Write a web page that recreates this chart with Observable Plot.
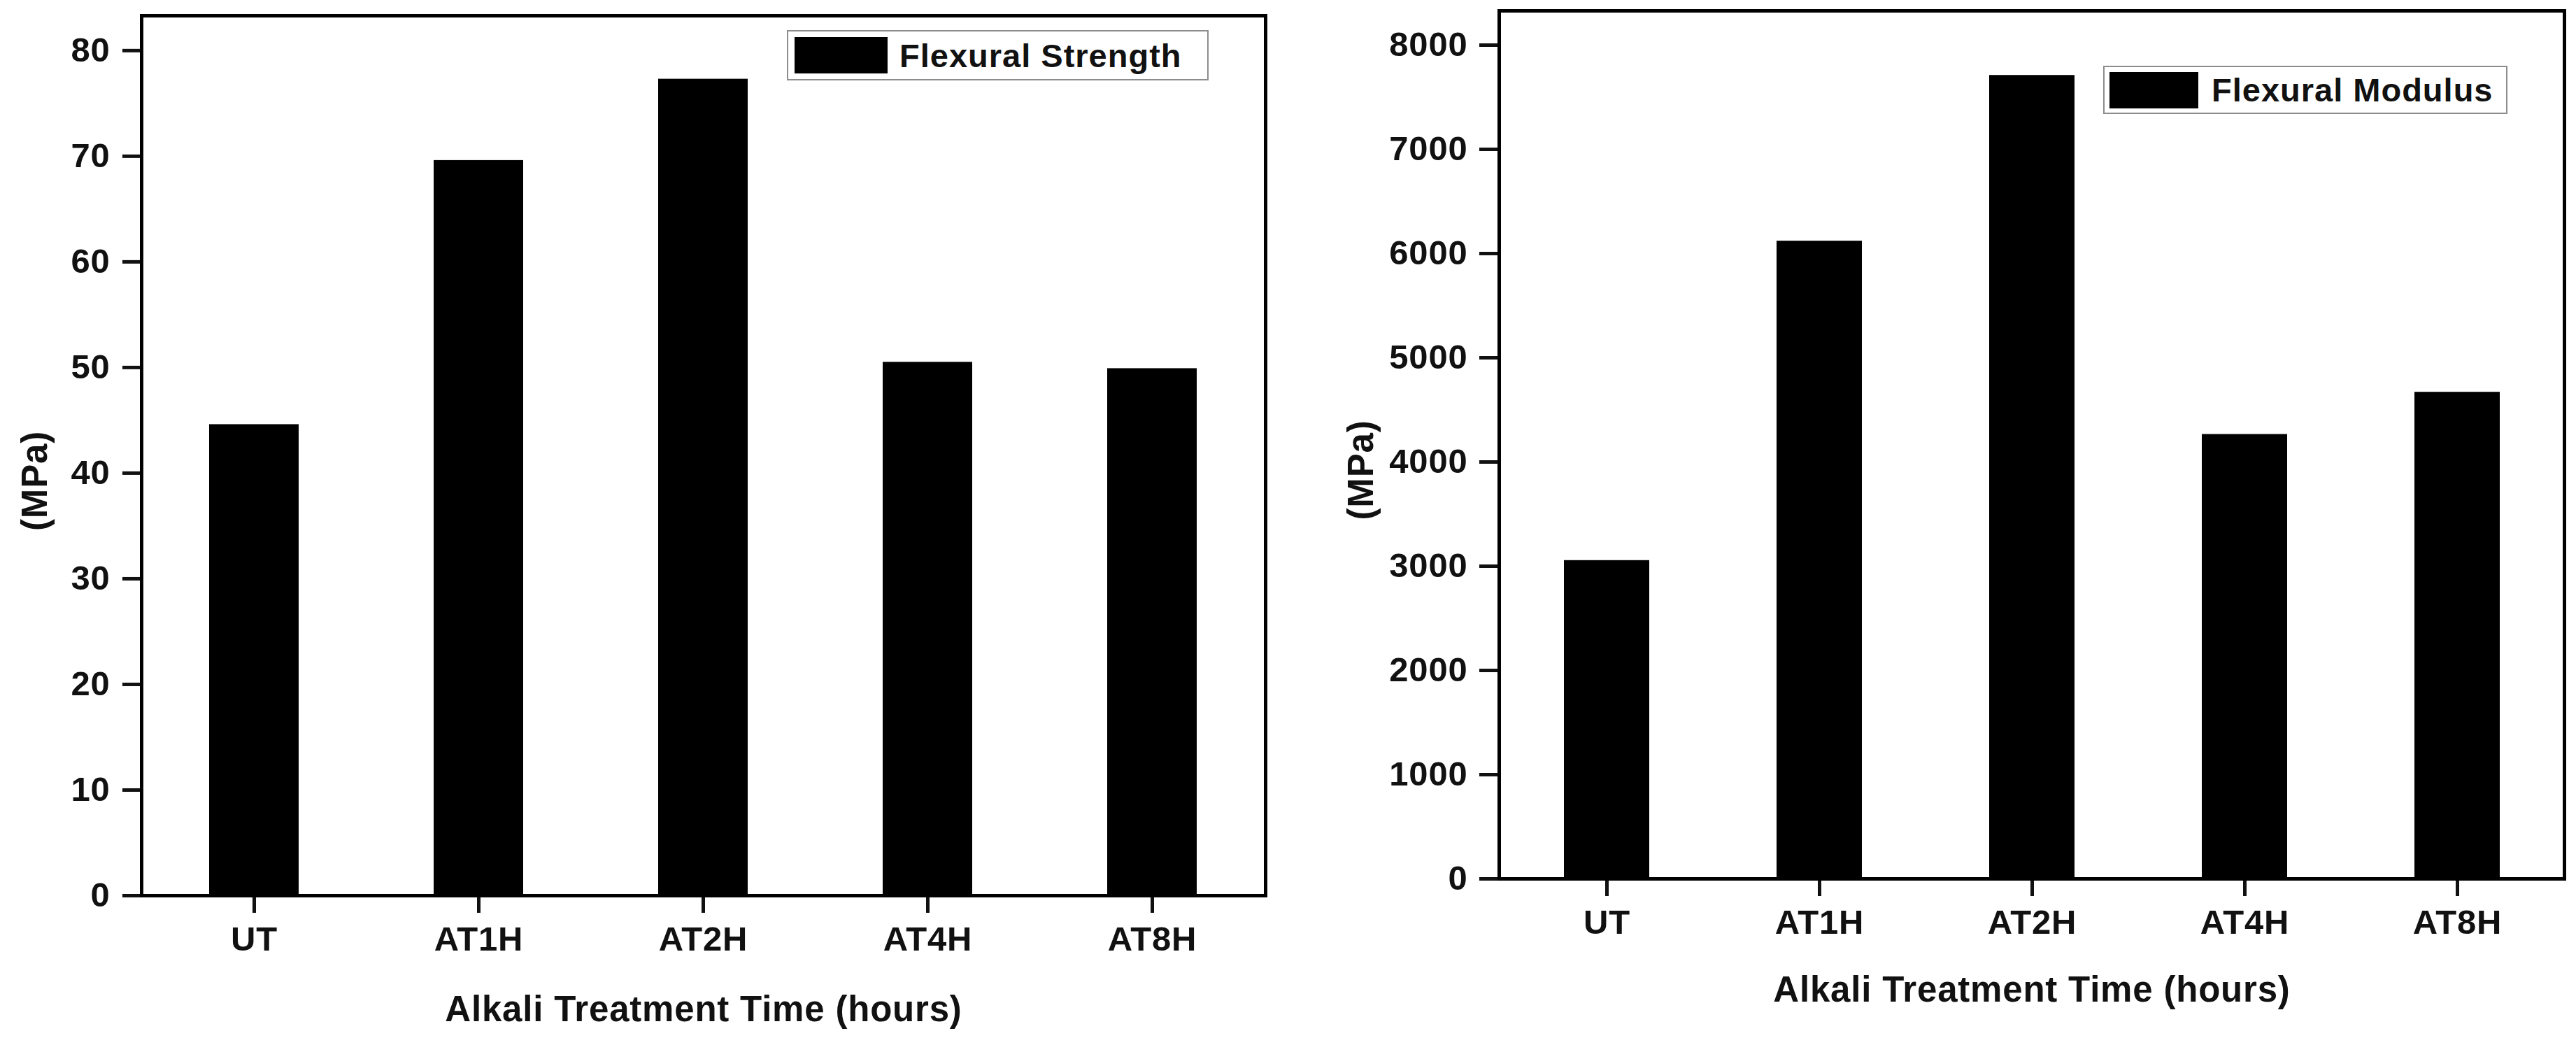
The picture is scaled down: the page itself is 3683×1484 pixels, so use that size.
<!DOCTYPE html>
<html>
<head>
<meta charset="utf-8">
<script src="https://cdn.jsdelivr.net/npm/d3@7"></script>
<script src="https://cdn.jsdelivr.net/npm/@observablehq/plot@0.6"></script>
<style>
  html, body { margin: 0; padding: 0; background: #fff; }
  #wrap { position: relative; width: 3683px; height: 1484px; overflow: hidden; background: #fff;
          font-family: "Liberation Sans", Arial, sans-serif; }
  .panel { position: absolute; top: 0; }
  .legend { position: absolute; box-sizing: border-box; border: 2px solid #8c8c8c; background: #fff;
            display: flex; align-items: center; font-weight: bold; font-size: 47px; letter-spacing: 1px; color: #111; }
  .legend .sw { background: #000; flex: none; }
</style>
</head>
<body>
<div id="wrap"></div>
<script>
// ---- data ----
const categories = ["UT", "AT1H", "AT2H", "AT4H", "AT8H"];
const strengthValues = [44.6, 69.6, 77.3, 50.5, 49.9];
const modulusValues = [3055, 6120, 7710, 4265, 4670];
const strengthTicks = [0, 10, 20, 30, 40, 50, 60, 70, 80];
const modulusTicks = [0, 1000, 2000, 3000, 4000, 5000, 6000, 7000, 8000];
const xTitle = "Alkali Treatment Time (hours)";
const yTitle = "(MPa)";
const strengthLegend = "Flexural Strength";
const modulusLegend = "Flexural Modulus";

const wrap = document.getElementById("wrap");
const font = "Liberation Sans, Arial, sans-serif";

function panel({values, ticks, yMax, left, width, mL, mR, mT, mB, ySize, yPad, yLabelDx, yLabelDy, xLabelDy}) {
  const data = categories.map((c, i) => ({cat: c, value: values[i]}));
  const chart = Plot.plot({
    width, height: 1484,
    marginLeft: mL, marginRight: mR, marginTop: mT, marginBottom: mB,
    style: {fontFamily: font, fontWeight: "bold", color: "#111", background: "#fff", overflow: "visible"},
    x: {domain: categories, type: "band", paddingInner: 0.6, paddingOuter: 0.3, label: null},
    y: {domain: [0, yMax], label: null},
    marks: [
      Plot.barY(data, {x: "cat", y: "value", fill: "#000"}),
      Plot.axisY({ticks, tickSize: ySize, tickPadding: yPad, fontSize: 49, fontWeight: "bold",
                  strokeWidth: 5, label: null, tickFormat: d => String(d)}),
      Plot.axisX({tickSize: 25, tickPadding: 19, fontSize: 49, fontWeight: "bold",
                  strokeWidth: 5, label: null}),
      Plot.frame({stroke: "#000", strokeWidth: 5}),
      Plot.text([yTitle], {text: d => d, frameAnchor: "left", rotate: -90, dx: yLabelDx, dy: yLabelDy,
                           fontSize: 51, fontWeight: "bold", textAnchor: "middle", lineAnchor: "middle"}),
      Plot.text([xTitle], {text: d => d, frameAnchor: "bottom", dy: xLabelDy,
                           fontSize: 51, fontWeight: "bold", textAnchor: "middle", lineAnchor: "middle"})
    ]
  });
  chart.setAttribute("class", "panel");
  chart.style.left = left + "px";
  chart.querySelectorAll("text").forEach(t => t.style.letterSpacing = "0.8px");
  wrap.appendChild(chart);
}

panel({values: strengthValues, ticks: strengthTicks, yMax: 83.3, left: 0, width: 1840,
       mL: 202, mR: 31, mT: 22, mB: 204, ySize: 27, yPad: 18, yLabelDx: -152, yLabelDy: 36, xLabelDy: 163});
panel({values: modulusValues, ticks: modulusTicks, yMax: 8329, left: 1840, width: 1843,
       mL: 303, mR: 17, mT: 15, mB: 228, ySize: 28, yPad: 17, yLabelDx: -197, yLabelDy: 36, xLabelDy: 159});

function legend(text, {left, top, w, h, swL, swW, swH, gap}) {
  const box = document.createElement("div");
  box.className = "legend";
  Object.assign(box.style, {left: left + "px", top: top + "px", width: w + "px", height: h + "px", paddingLeft: swL + "px"});
  const sw = document.createElement("div");
  sw.className = "sw";
  Object.assign(sw.style, {width: swW + "px", height: swH + "px", marginRight: gap + "px"});
  const label = document.createElement("span");
  label.textContent = text;
  box.appendChild(sw);
  box.appendChild(label);
  wrap.appendChild(box);
}
legend(strengthLegend, {left: 1125, top: 43, w: 603, h: 72, swL: 9, swW: 133, swH: 52, gap: 17});
legend(modulusLegend, {left: 3007, top: 94, w: 578, h: 69, swL: 7, swW: 127, swH: 52, gap: 19});
</script>
</body>
</html>
